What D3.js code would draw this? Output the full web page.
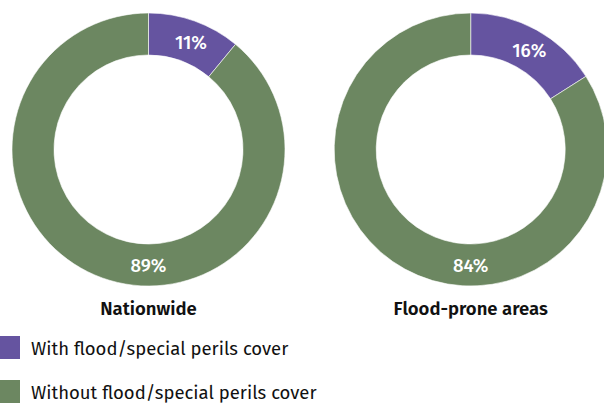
<!DOCTYPE html>
<html>
<head>
<meta charset="utf-8">
<script src="https://cdn.jsdelivr.net/npm/d3@7"></script>
<style>
  body { margin: 0; background: #fff; }
  svg { display: block; font-family: "Fira Sans", "Open Sans", sans-serif; }
</style>
</head>
<body>
<div id="chart"></div>
<script>
// chart data
const groups = ["Nationwide", "Flood-prone areas"];
const categories = ["With flood/special perils cover", "Without flood/special perils cover"];
const withCover = [11, 16];
const withoutCover = [89, 84];

const colors = ["#6554a0", "#6c8761"];

const width = 604, height = 403;
const outerR = 136.5, innerR = 94.5;

const svg = d3.select("#chart").append("svg")
    .attr("width", width)
    .attr("height", height);

// donut positions
const x = d3.scalePoint()
  .domain(groups)
  .range([148.5, 470.7]);

const pie = d3.pie().sort(null).value(d => d.value);
const arc = d3.arc().innerRadius(innerR).outerRadius(outerR);
const midR = (innerR + outerR) / 2;
const labelArc = d3.arc().innerRadius(midR).outerRadius(midR);

groups.forEach(function(g, i) {
  const slices = [
    { key: categories[0], value: withCover[i] },
    { key: categories[1], value: withoutCover[i] }
  ];
  const arcs = pie(slices);

  const donut = svg.append("g")
      .attr("transform", `translate(${x(g)},149.5)`);

  donut.selectAll("path")
    .data(arcs)
    .enter().append("path")
      .attr("d", arc)
      .attr("fill", (d, j) => colors[j])
      .attr("stroke", "#fff")
      .attr("stroke-width", 0.6);

  // small slice label at its centroid, big slice label at the bottom of the ring
  donut.selectAll(".lbl")
    .data(arcs)
    .enter().append("text")
      .attr("class", "lbl")
      .attr("transform", (d, j) => {
        const a = j === 0 ? (d.startAngle + d.endAngle) / 2 + 0.03 : Math.PI;
        return `translate(${labelArc.centroid({ startAngle: a, endAngle: a })})`;
      })
      .attr("dy", "0.36em")
      .attr("text-anchor", "middle")
      .attr("fill", "#fff")
      .attr("font-weight", 500)
      .attr("font-size", 18.5)
      .text(d => d.value + "%");

  // group title
  svg.append("text")
      .attr("x", x(g))
      .attr("y", 315)
      .attr("text-anchor", "middle")
      .attr("font-weight", 600)
      .attr("font-size", 18.5)
      .attr("fill", "#111")
      .text(g);
});

// legend
const legend = svg.selectAll(".legend")
  .data(categories)
  .enter().append("g")
    .attr("class", "legend")
    .attr("transform", (d, i) => `translate(0,${336 + i * 44})`);

legend.append("rect")
    .attr("width", 20)
    .attr("height", 23)
    .attr("fill", (d, i) => colors[i]);

legend.append("text")
    .attr("x", 31)
    .attr("y", 19)
    .attr("font-size", 18.5)
    .attr("fill", "#111")
    .text(d => d);
</script>
</body>
</html>
